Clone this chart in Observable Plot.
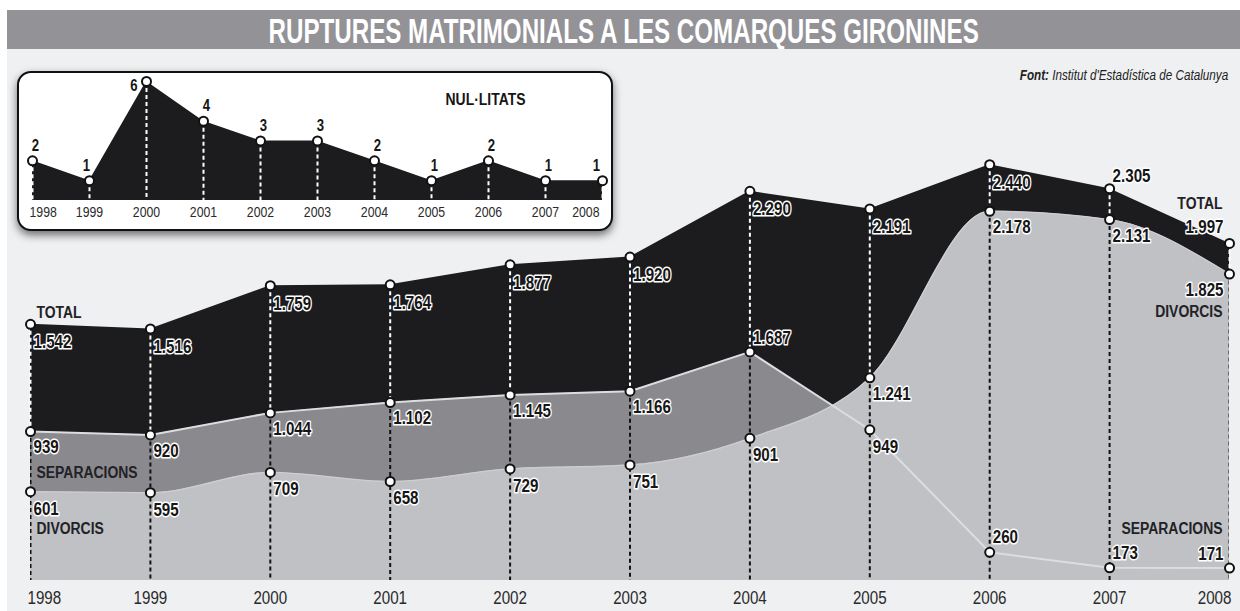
<!DOCTYPE html>
<html><head><meta charset="utf-8">
<script src="https://cdn.jsdelivr.net/npm/d3@7"></script>
<script src="https://cdn.jsdelivr.net/npm/@observablehq/plot@0.6"></script>
<style>
html,body{margin:0;padding:0;background:#fff;}
body{width:1240px;height:611px;position:relative;overflow:hidden;font-family:"Liberation Sans",Arial,sans-serif;}
#titlebar{position:absolute;left:7px;top:10px;width:1233px;height:39px;background:#939297;}
#title{position:absolute;left:0;right:0;top:0;height:39px;line-height:41px;text-align:center;color:#fff;font-weight:bold;font-size:35px;white-space:nowrap;}
#title span{display:inline-block;transform:scaleX(0.69);transform-origin:50% 50%;}
#panel{position:absolute;left:7px;top:49px;width:1233px;height:562px;background:#eff0f2;}
#source{position:absolute;right:12px;top:66px;font-size:15px;font-style:italic;color:#222;white-space:nowrap;transform:scaleX(0.78);transform-origin:100% 50%;}
#main{position:absolute;left:0;top:0;}
#inset{position:absolute;left:17px;top:71px;width:596px;height:160px;box-sizing:border-box;border:2px solid #111;border-radius:14px;background:#fff;box-shadow:0 4px 9px rgba(0,0,0,0.55);overflow:hidden;}
</style></head>
<body>
<div id="titlebar"><div id="title"><span>RUPTURES MATRIMONIALS A LES COMARQUES GIRONINES</span></div></div>
<div id="panel"></div>
<div id="main"></div>
<div id="source"><b>Font:</b> Institut d'Estadística de Catalunya</div>
<div id="inset"></div>
<script>
const years = [1998, 1999, 2000, 2001, 2002, 2003, 2004, 2005, 2006, 2007, 2008];
const total = [1542, 1516, 1759, 1764, 1877, 1920, 2290, 2191, 2440, 2305, 1997];
const separacions = [939, 920, 1044, 1102, 1145, 1166, 1387, 949, 260, 173, 171];
// printed labels of separacions (the 2004 point is drawn near 1.387 but printed as 1.687)
const separacionsText = ["939", "920", "1.044", "1.102", "1.145", "1.166", "1.687", "949", "260", "173", "171"];
const divorcis = [601, 595, 709, 658, 729, 751, 901, 1241, 2178, 2131, 1825];
const nullitats = [2, 1, 6, 4, 3, 3, 2, 1, 2, 1, 1];

const FONT = '"Liberation Sans",Arial,sans-serif';
const loc = d3.formatLocale({decimal: ",", thousands: ".", grouping: [3], currency: ["", " €"]});
const fmt = loc.format(",d");

const rows = years.map((year, i) => {
  const sep = separacions[i], div = divorcis[i];
  const sepT = separacionsText[i], divT = fmt(div);
  return {
    year, total: total[i], sep, div, nul: nullitats[i],
    upper: Math.max(sep, div), upperText: sep >= div ? sepT : divT,
    lower: Math.min(sep, div), lowerText: sep >= div ? divT : sepT
  };
});
const first = years[0], last = years[years.length - 1];
const midYears = years.slice(1, -1);

const BLACK = "#1c1c1f", DARK = "#8a898e", LIGHT = "#c0c1c5";
const lab = (filter, y, text, opts) => Plot.text(rows.filter(filter), {
  x: "year", y, text, fontWeight: "bold", fontSize: 18.5, fill: "#161616",
  stroke: "white", strokeWidth: 3, textAnchor: "start", ...opts
});
const name = (filter, y, str, opts) => Plot.text(rows.filter(filter), {
  x: "year", y, text: () => str, fontWeight: "bold", fontSize: 17, fill: "#222226",
  textAnchor: "start", ...opts
});
const yearAxes = (size, pad, dxFirst, dxLast) => [
  Plot.axisX({ticks: midYears, tickFormat: d => String(d), tickSize: 0, tickPadding: pad, fontSize: size, label: null}),
  Plot.axisX({ticks: [first], tickFormat: d => String(d), tickSize: 0, tickPadding: pad, fontSize: size, label: null, textAnchor: "start", dx: dxFirst}),
  Plot.axisX({ticks: [last], tickFormat: d => String(d), tickSize: 0, tickPadding: pad, fontSize: size, label: null, textAnchor: "end", dx: dxLast})
];
// horizontally condense every text around its anchor point (y attributes are em offsets, left untouched)
function condense(svg, sx) {
  svg.querySelectorAll("text").forEach(t => {
    const tr = t.getAttribute("transform") || "";
    t.setAttribute("transform", (tr + ` scale(${sx},1)`).trim());
  });
}

const main = Plot.plot({
  width: 1240, height: 611,
  marginLeft: 30, marginRight: 11, marginTop: 0, marginBottom: 31,
  x: {domain: [first, last]},
  y: {domain: [0, 3000], range: [598, 64.6], axis: null},
  style: {background: "transparent", fontFamily: FONT, overflow: "visible", color: "#2a2a2a"},
  marks: [
    Plot.areaY(rows, {x: "year", y: "total", fill: BLACK, clip: true}),
    Plot.areaY(rows, {x: "year", y: "sep", fill: DARK, clip: true}),
    Plot.areaY(rows, {x: "year", y: "div", fill: LIGHT, curve: "monotone-x", clip: true}),
    Plot.lineY(rows, {x: "year", y: "div", stroke: "#cdced2", strokeWidth: 1.3, curve: "monotone-x"}),
    Plot.lineY(rows, {x: "year", y: "sep", stroke: "#dcdde0", strokeWidth: 2}),
    Plot.ruleX(rows, {x: "year", y1: "total", y2: "upper", stroke: "white", strokeWidth: 2, strokeDasharray: "4,3"}),
    Plot.ruleX(rows, {x: "year", y1: "upper", y2: 0, stroke: "#111", strokeWidth: 2, strokeDasharray: "4,3", clip: true}),
    Plot.dot(rows, {x: "year", y: "total", r: 4.5, fill: "white", stroke: "#111", strokeWidth: 2}),
    Plot.dot(rows, {x: "year", y: "sep", r: 4.5, fill: "white", stroke: "#111", strokeWidth: 2}),
    Plot.dot(rows, {x: "year", y: "div", r: 4.5, fill: "white", stroke: "#111", strokeWidth: 2}),
    // total labels
    lab(d => d.year <= 2006, "total", d => fmt(d.total), {dx: 3, dy: 18}),
    lab(d => d.year === 2007, "total", d => fmt(d.total), {dx: 3, dy: -13}),
    lab(d => d.year === last, "total", d => fmt(d.total), {dx: -6, dy: -16, textAnchor: "end"}),
    // upper (middle line) labels
    lab(d => d.year !== 2004 && d.year !== last, "upper", "upperText", {dx: 3, dy: 16}),
    lab(d => d.year === 2004, "upper", "upperText", {dx: 3, dy: -14}),
    lab(d => d.year === last, "upper", "upperText", {dx: -6, dy: 16, textAnchor: "end"}),
    // lower labels
    lab(d => d.year <= 2005, "lower", "lowerText", {dx: 3, dy: 17}),
    lab(d => d.year === 2006 || d.year === 2007, "lower", "lowerText", {dx: 3, dy: -15}),
    lab(d => d.year === last, "lower", "lowerText", {dx: -6, dy: -14, textAnchor: "end"}),
    // series names
    name(d => d.year === first, "total", "TOTAL", {dx: 6, dy: -12}),
    name(d => d.year === last, "total", "TOTAL", {dx: -7, dy: -40, textAnchor: "end"}),
    name(d => d.year === first, "sep", "SEPARACIONS", {dx: 6, dy: 41}),
    name(d => d.year === last, "sep", "SEPARACIONS", {dx: -7, dy: -40, textAnchor: "end"}),
    name(d => d.year === first, "div", "DIVORCIS", {dx: 6, dy: 37}),
    name(d => d.year === last, "div", "DIVORCIS", {dx: -7, dy: 38, textAnchor: "end"}),
    ...yearAxes(18.5, 10, -3, 2)
  ]
});
condense(main, 0.82);
document.getElementById("main").appendChild(main);

const ilab = (filter, opts) => Plot.text(rows.filter(filter), {
  x: "year", y: "nul", text: d => String(d.nul), fontWeight: "bold", fontSize: 16, fill: "#161616",
  stroke: "white", strokeWidth: 2.5, ...opts
});
const inset = Plot.plot({
  width: 592, height: 156,
  marginLeft: 13, marginRight: 9, marginTop: 8, marginBottom: 29,
  x: {domain: [first, last]},
  y: {domain: [0, 6], axis: null},
  style: {background: "transparent", fontFamily: FONT, overflow: "visible", color: "#2a2a2a"},
  marks: [
    Plot.areaY(rows, {x: "year", y: "nul", fill: BLACK}),
    Plot.ruleX(rows, {x: "year", y1: "nul", y2: 0, stroke: "white", strokeWidth: 2, strokeDasharray: "4,3"}),
    Plot.dot(rows, {x: "year", y: "nul", r: 4.5, fill: "white", stroke: "#111", strokeWidth: 2}),
    ilab(d => d.year === 2000, {dx: -9, dy: 4, textAnchor: "end"}),
    ilab(d => d.year === 1999, {dx: -3, dy: -15}),
    ilab(d => d.year === last, {dx: -6, dy: -15}),
    ilab(d => d.year !== 2000 && d.year !== 1999 && d.year !== last, {dx: 3, dy: -15}),
    Plot.text(["NUL·LITATS"], {frameAnchor: "top-right", textAnchor: "middle", dx: -117, dy: 11, fontWeight: "bold", fontSize: 17, fill: "#161616"}),
    ...yearAxes(15, 6, -3, -3)
  ]
});
condense(inset, 0.82);
document.getElementById("inset").appendChild(inset);
</script>
</body></html>
